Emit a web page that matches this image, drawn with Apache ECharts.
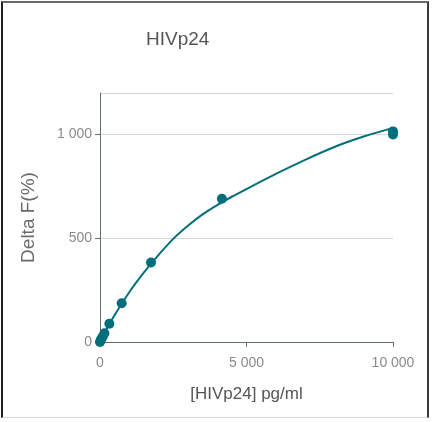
<!DOCTYPE html>
<html><head><meta charset="utf-8">
<script src="https://cdn.jsdelivr.net/npm/echarts@6/dist/echarts.min.js"></script>
<style>
html,body{margin:0;padding:0;background:#fff;}
#frame{position:absolute;left:1px;top:1px;width:428px;height:417px;border-left:2px solid #1e1e1e;border-top:2px solid #6a6a6a;border-right:2px solid #3a3a3a;border-bottom:1px solid #d8d8d8;box-sizing:border-box;}
#c{position:absolute;left:0;top:0;width:433px;height:422px;}
</style></head>
<body>
<div id="frame"></div>
<div id="c"></div>
<script>
var title = 'HIVp24';
var xName = '[HIVp24] pg/ml';
var yName = 'Delta F(%)';
// measured points [pg/ml, Delta F %]
var pointX = [0, 25, 50, 100, 150, 320, 740, 1740, 4160, 10000, 10000];
var pointY = [0, 8, 16, 28, 42, 88, 187, 383, 690, 1000, 1015];
// fitted curve
var curveX = [0, 250, 500, 1000, 1500, 2000, 2500, 3000, 3500, 4000, 4500, 5000, 6000, 7000, 8000, 9000, 10000];
var curveY = [0, 68, 130, 240, 335, 420, 497, 560, 615, 660, 700, 737, 810, 878, 940, 990, 1032];
var xTicks = [0, 5000, 10000];
var yTicks = [0, 500, 1000];

function fmt(v){ return String(v).replace(/\B(?=(\d{3})+(?!\d))/g, ' '); }
var teal = '#006f7c';
var font = '"Liberation Sans Narrow", "Liberation Sans", Arial, sans-serif';

var chart = echarts.init(document.getElementById('c'));
chart.setOption({
  animation: false,
  title: { text: title, left: 141, top: 25, textStyle: { fontFamily: font, fontSize: 19, fontWeight: 'normal', color: '#555' } },
  grid: { left: 100, right: 40, top: 93, bottom: 80 },
  xAxis: {
    type: 'value', min: 0, max: 10000, interval: 5000,
    name: xName, nameLocation: 'middle', nameGap: 44,
    nameTextStyle: { fontFamily: font, fontSize: 17, color: '#555' },
    axisLine: { show: true, lineStyle: { color: '#5f6b70', width: 1 } },
    axisTick: { show: true, length: 5, lineStyle: { color: '#5f6b70' } },
    axisLabel: { fontFamily: font, fontSize: 14, color: '#8a8a8a', margin: 14, formatter: fmt },
    splitLine: { show: false }
  },
  yAxis: {
    type: 'value', min: 0, max: 1200, interval: 500,
    name: yName, nameLocation: 'middle', nameGap: 62, nameRotate: 90,
    nameTextStyle: { fontFamily: font, fontSize: 19, color: '#6a6a6a' },
    axisLine: { show: true, lineStyle: { color: '#5f6b70', width: 1 } },
    axisTick: { show: true, length: 5, lineStyle: { color: '#5f6b70' } },
    axisLabel: { fontFamily: font, fontSize: 14, color: '#8a8a8a', margin: 8, formatter: fmt,
      showMaxLabel: false },
    splitLine: { show: true, lineStyle: { color: '#d6d6d6', width: 1 } }
  },
  series: [
    { type: 'line', data: curveX.map(function(x,i){return [x, curveY[i]];}), smooth: 0.3, showSymbol: false,
      lineStyle: { color: teal, width: 2 }, z: 2 },
    { type: 'scatter', data: pointX.map(function(x,i){return [x, pointY[i]];}), symbolSize: 10,
      itemStyle: { color: teal, opacity: 1 }, z: 3 }
  ]
});
</script>
</body></html>
